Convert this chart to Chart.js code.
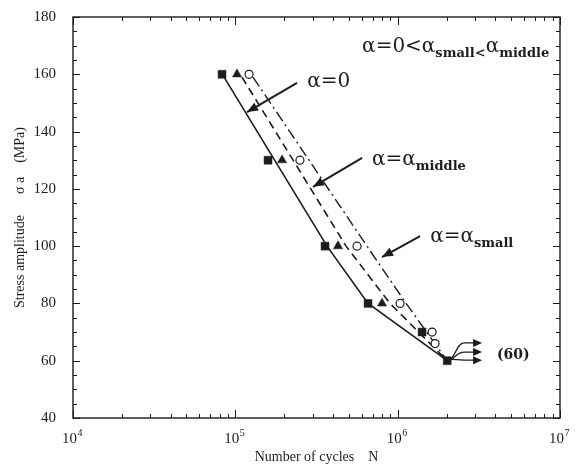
<!DOCTYPE html>
<html>
<head>
<meta charset="utf-8">
<script src="https://cdn.jsdelivr.net/npm/chart.js@4.4.1/dist/chart.umd.min.js"></script>
<style>
  html, body { margin: 0; padding: 0; background: #fff; }
  #wrap { width: 576px; height: 470px; }
</style>
</head>
<body>
<div id="wrap"><canvas id="sn" width="576" height="470"></canvas></div>
<script>
// markers (N in cycles, stress in MPa)
const sqN = [82800, 159000, 357000, 657000, 1414000, 2020000];
const sqS = [160, 130, 100, 80, 70, 60];
const triN = [102400, 194000, 429000, 801000];
const triS = [160, 130, 100, 80];
const cirN = [121500, 250000, 562000, 1035000, 1630000, 1700000];
const cirS = [160, 130, 100, 80, 70, 66];

// S-N curves
const solidN = [85200, 367000, 657000, 2020000];
const solidS = [159, 100, 80, 60];
const dashN = [109900, 481000, 897000, 2020000];
const dashS = [159, 100, 80, 60];
const dashDotN = [128500, 647000, 1127000, 2020000];
const dashDotS = [159, 100, 80, 60];

// run-outs at 60 MPa
const runoutN = 2020000;
const runoutTipN = 3310000;
const runoutS = [66.2, 63.0, 60.2];

// axes
const xTicks = [1e4, 1e5, 1e6, 1e7];
const xTickExp = ['4', '5', '6', '7'];
const yTicks = [40, 60, 80, 100, 120, 140, 160, 180];
const yMinorStep = 5;

const ink = '#1c1c1c';

function pts(xs, ys) {
    return xs.map((x, i) => ({ x: x, y: ys[i] }));
}

// callouts, positioned in data units
const labels = [
    { n: 277000, s: 155.6, parts: [['α=0', 'm']] },
    { n: 695000, s: 128.3, parts: [['α=α', 'm'], ['middle', 's']] },
    { n: 1585000, s: 101.5, parts: [['α=α', 'm'], ['small', 's']] },
    { n: 604000, s: 167.8, parts: [['α=0<α', 'm'], ['small', 's'], ['<', 's'], ['α', 'm'], ['middle', 's']] }
];
const pointers = [
    { from: [240000, 157.0], to: [118000, 146.8] },
    { from: [604000, 130.8], to: [301000, 120.7] },
    { from: [1374000, 103.5], to: [801000, 96.2] }
];

function arrowHead(ctx, x1, y1, x2, y2, len, half) {
    const a = Math.atan2(y2 - y1, x2 - x1);
    ctx.beginPath();
    ctx.moveTo(x2, y2);
    ctx.lineTo(x2 - len * Math.cos(a) + half * Math.sin(a), y2 - len * Math.sin(a) - half * Math.cos(a));
    ctx.lineTo(x2 - len * Math.cos(a) - half * Math.sin(a), y2 - len * Math.sin(a) + half * Math.cos(a));
    ctx.closePath();
    ctx.fill();
}

function drawRich(ctx, x, y, parts) {
    let cx = x;
    parts.forEach(([txt, kind]) => {
        ctx.font = kind === 's' ? 'bold 13px "DejaVu Serif"' : '20px "DejaVu Serif"';
        ctx.fillText(txt, cx, kind === 's' ? y + 5 : y);
        cx += ctx.measureText(txt).width;
    });
}

const frame = {
    id: 'frame',
    afterDraw(chart) {
        const ctx = chart.ctx;
        const a = chart.chartArea;
        const xs = chart.scales.x;
        const ys = chart.scales.y;
        ctx.save();
        ctx.strokeStyle = ink;
        ctx.fillStyle = ink;

        // box
        ctx.lineWidth = 1.4;
        ctx.strokeRect(a.left, a.top, a.right - a.left, a.bottom - a.top);

        // ticks, all pointing inward
        ctx.lineWidth = 1;
        ctx.beginPath();
        for (let v = ys.min; v <= ys.max; v += yMinorStep) {
            const y = Math.round(ys.getPixelForValue(v)) + 0.5;
            const L = v % 20 === 0 ? 7 : 4;
            ctx.moveTo(a.left, y); ctx.lineTo(a.left + L, y);
            ctx.moveTo(a.right, y); ctx.lineTo(a.right - L, y);
        }
        for (let d = 1e4; d < 1e7; d *= 10) {
            for (let k = 1; k <= 10; k++) {
                const x = Math.round(xs.getPixelForValue(d * k)) + 0.5;
                const L = (k === 1 || k === 10) ? 8 : 4;
                ctx.moveTo(x, a.bottom); ctx.lineTo(x, a.bottom - L);
                ctx.moveTo(x, a.top); ctx.lineTo(x, a.top + L);
            }
        }
        ctx.stroke();

        // x tick labels with raised exponent
        ctx.textAlign = 'left';
        ctx.textBaseline = 'alphabetic';
        xTicks.forEach((v, i) => {
            const x = xs.getPixelForValue(v);
            ctx.font = '15px "Liberation Serif"';
            const w1 = ctx.measureText('10').width;
            ctx.font = '10px "Liberation Serif"';
            const w2 = ctx.measureText(xTickExp[i]).width;
            const left = x - (w1 + w2) / 2 - 1;
            ctx.font = '15px "Liberation Serif"';
            ctx.fillText('10', left, a.bottom + 25);
            ctx.font = '10px "Liberation Serif"';
            ctx.fillText(xTickExp[i], left + w1 + 0.5, a.bottom + 18);
        });

        // callout arrows
        ctx.lineWidth = 2;
        pointers.forEach(p => {
            const x1 = xs.getPixelForValue(p.from[0]), y1 = ys.getPixelForValue(p.from[1]);
            const x2 = xs.getPixelForValue(p.to[0]), y2 = ys.getPixelForValue(p.to[1]);
            ctx.beginPath();
            ctx.moveTo(x1, y1);
            ctx.lineTo(x2, y2);
            ctx.stroke();
            arrowHead(ctx, x1, y1, x2, y2, 11, 4.5);
        });

        // run-out arrows
        const x0 = xs.getPixelForValue(runoutN);
        const y0 = ys.getPixelForValue(60);
        const xt = xs.getPixelForValue(runoutTipN);
        ctx.lineWidth = 1.3;
        runoutS.forEach(s => {
            const y = ys.getPixelForValue(s);
            ctx.beginPath();
            ctx.moveTo(x0 + 2, y0 - 1);
            ctx.bezierCurveTo(x0 + 8, y0 - 2, x0 + 9, y, x0 + 17, y);
            ctx.lineTo(xt - 6, y);
            ctx.stroke();
            arrowHead(ctx, xt - 10, y, xt, y, 9, 4);
        });

        // text
        labels.forEach(l => drawRich(ctx, xs.getPixelForValue(l.n), ys.getPixelForValue(l.s), l.parts));
        ctx.font = 'bold 14px "DejaVu Serif"';
        ctx.textBaseline = 'middle';
        ctx.fillText('(60)', xs.getPixelForValue(4090000), ys.getPixelForValue(62));
        ctx.restore();
    }
};

Chart.defaults.font.family = '"Liberation Serif", serif';
Chart.defaults.color = ink;

new Chart(document.getElementById('sn'), {
    type: 'scatter',
    data: {
        datasets: [
            { data: pts(cirN, cirS), pointStyle: 'circle', pointRadius: 4, backgroundColor: '#fff', borderColor: ink, borderWidth: 1.2 },
            { data: pts(triN, triS), pointStyle: 'triangle', pointRadius: 5.3, backgroundColor: ink, borderColor: ink, borderWidth: 0.5 },
            { data: pts(sqN, sqS), pointStyle: 'rect', pointRadius: 5.6, backgroundColor: ink, borderColor: ink, borderWidth: 0.5 },
            { data: pts(solidN, solidS), showLine: true, pointRadius: 0, borderColor: ink, borderWidth: 1.6 },
            { data: pts(dashN, dashS), showLine: true, pointRadius: 0, borderColor: ink, borderWidth: 1.6, borderDash: [8, 5] },
            { data: pts(dashDotN, dashDotS), showLine: true, pointRadius: 0, borderColor: ink, borderWidth: 1.4, borderDash: [11, 4, 2, 4] }
        ]
    },
    options: {
        responsive: false,
        animation: false,
        devicePixelRatio: 1,
        layout: { padding: { left: 0, right: 16, top: 17, bottom: 0 } },
        plugins: { legend: { display: false }, tooltip: { enabled: false } },
        scales: {
            x: {
                type: 'logarithmic',
                min: 1e4,
                max: 1e7,
                grid: { display: false },
                border: { display: false },
                afterBuildTicks: s => { s.ticks = xTicks.map(v => ({ value: v })); },
                afterFit: s => { s.height = 52; s.paddingLeft = 0; s.paddingRight = 0; },
                ticks: { display: false },
                title: { display: true, text: 'Number of cycles    N', font: { size: 14 }, padding: { top: 0, bottom: 4 } }
            },
            y: {
                min: 40,
                max: 180,
                grid: { display: false },
                border: { display: false },
                afterBuildTicks: s => { s.ticks = yTicks.map(v => ({ value: v })); },
                afterFit: s => { s.width = 73; s.paddingTop = 0; s.paddingBottom = 0; },
                ticks: { padding: 9, font: { size: 15 } },
                title: { display: true, text: 'Stress amplitude      σ a    (MPa)', font: { size: 14 }, padding: { top: 12, bottom: 0 } }
            }
        }
    },
    plugins: [frame]
});
</script>
</body>
</html>
